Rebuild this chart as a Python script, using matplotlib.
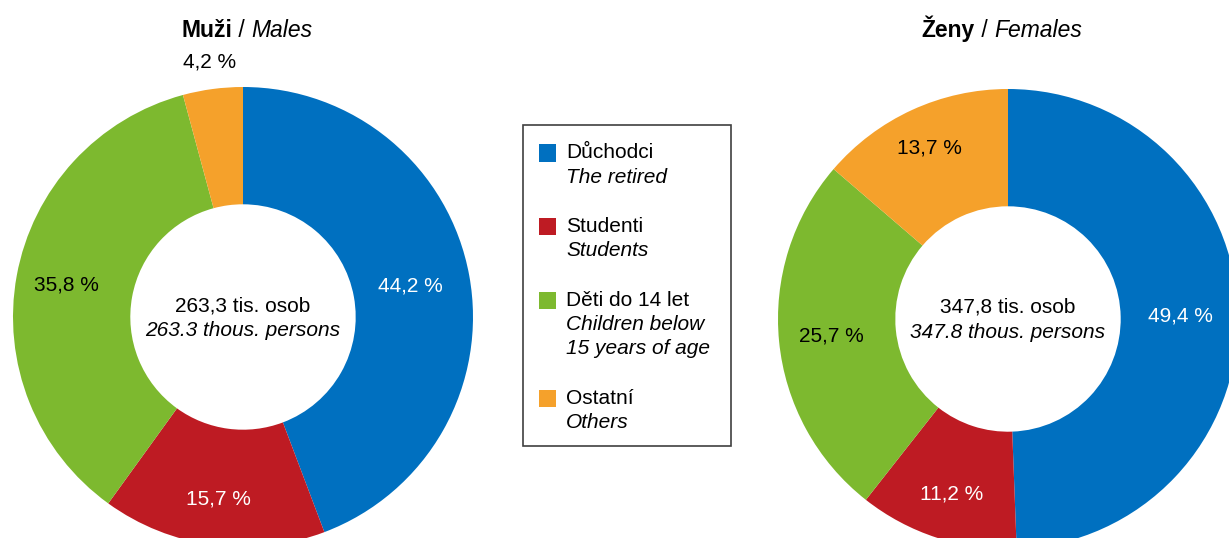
import numpy as np
import matplotlib.pyplot as plt
from matplotlib.patches import Rectangle

plt.rcParams['font.family'] = ['Liberation Sans', 'DejaVu Sans']

# data
categories_cz = ['Důchodci', 'Studenti', 'Děti do 14 let', 'Ostatní']
categories_en = ['The retired', 'Students', 'Children below\n15 years of age', 'Others']
colors = ['#0070C0', '#BE1B23', '#7DB92F', '#F5A12B']
label_colors = ['white', 'white', 'black', 'black']

males = [44.2, 15.7, 35.8, 4.2]
females = [49.4, 11.2, 25.7, 13.7]
males_total = '263,3'
females_total = '347,8'
males_total_en = '263.3'
females_total_en = '347.8'

W, H = 1229, 538
fig = plt.figure(figsize=(W / 100, H / 100), dpi=100)
FS = 15


def fx(x):
    return x / W


def fy(y):
    return 1 - y / H


def mixed_title(x, y, parts, size=16.5):
    # draw bold / normal / italic pieces side by side, centred on x
    renderer = fig.canvas.get_renderer()
    items = []
    total = 0
    for s, weight, style in parts:
        t = fig.text(0, fy(y), s, fontsize=size, fontweight=weight,
                     fontstyle=style, va='baseline', ha='left')
        w = t.get_window_extent(renderer).width
        items.append((t, w))
        total += w
    cur = x - total / 2
    for t, w in items:
        t.set_x(fx(cur))
        cur += w


def donut(cx, cy, R, values, total_cz, total_en, dists):
    ax = fig.add_axes([fx(cx - R), fy(cy + R), 2 * R / W, 2 * R / H])
    wedges, _ = ax.pie(values, colors=colors, startangle=90, counterclock=False,
                       radius=1, wedgeprops=dict(width=0.51, linewidth=0))
    ax.set_xlim(-1, 1)
    ax.set_ylim(-1, 1)
    ax.set_aspect('equal')
    ax.axis('off')
    for w, v, c, d in zip(wedges, values, label_colors, dists):
        ang = np.deg2rad((w.theta1 + w.theta2) / 2)
        ax.text(d * np.cos(ang), d * np.sin(ang), f'{v:.1f} %'.replace('.', ','),
                ha='center', va='center', fontsize=FS, color=c, clip_on=False)
    ax.text(0, 0.05, f'{total_cz} tis. osob', ha='center', va='center', fontsize=FS)
    ax.text(0, -0.06, f'{total_en} thous. persons', ha='center', va='center',
            fontsize=FS, fontstyle='italic')
    return ax


donut(243, 317, 230, males, males_total, males_total_en, [0.74, 0.8, 0.78, 1.12])
donut(1008, 319, 230, females, females_total, females_total_en, [0.75, 0.8, 0.77, 0.82])

mixed_title(247, 37, [('Muži', 'bold', 'normal'), (' / ', 'normal', 'normal'),
                      ('Males', 'normal', 'italic')])
mixed_title(1002, 37, [('Ženy', 'bold', 'normal'), (' / ', 'normal', 'normal'),
                       ('Females', 'normal', 'italic')])

# legend box
fig.patches.append(Rectangle((fx(523), fy(446)), (731 - 523) / W, (446 - 125) / H,
                             transform=fig.transFigure, facecolor='white',
                             edgecolor='#404040', linewidth=1.2))
line_h = 24.5
y = 153
for cz, en, col in zip(categories_cz, categories_en, colors):
    fig.patches.append(Rectangle((fx(539), fy(y + 8.5)), 17 / W, 17 / H,
                                 transform=fig.transFigure, facecolor=col,
                                 edgecolor='none'))
    fig.text(fx(566), fy(y), cz, fontsize=FS, va='center', ha='left')
    for line in en.split('\n'):
        y += line_h
        fig.text(fx(566), fy(y), line, fontsize=FS, va='center', ha='left',
                 fontstyle='italic')
    y += line_h * 2

fig.savefig('out.png', dpi=100)
